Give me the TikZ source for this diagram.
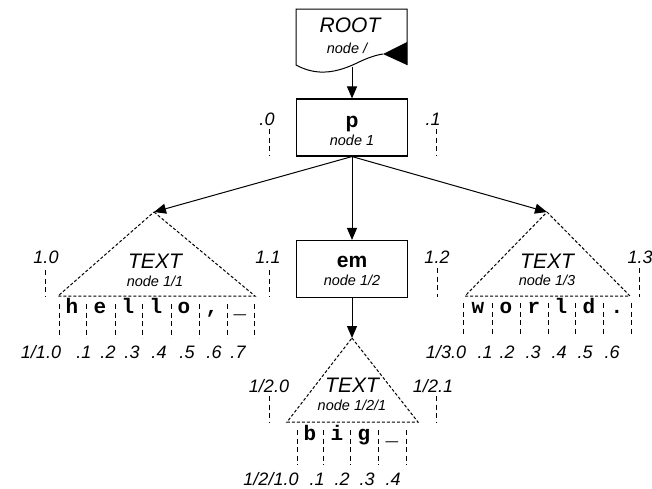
\documentclass[tikz,border=0pt]{standalone}
\usepackage{fontspec}
\setmainfont{Liberation Sans}
\setmonofont{Liberation Mono}
\usetikzlibrary{arrows.meta}
\begin{document}
\begin{tikzpicture}[x=1pt,y=-1pt]
\tikzset{boite/.style={draw, line width=1.1pt, minimum width=111pt, minimum height=57pt, inner sep=0pt},
  nomgras/.style={font=\fontsize{21}{21}\selectfont\bfseries, anchor=base, inner sep=0pt},
  nomital/.style={font=\fontsize{21}{21}\selectfont\itshape, anchor=base, inner sep=0pt},
  sousnom/.style={font=\fontsize{14.5}{14.5}\selectfont\itshape, anchor=base, inner sep=0pt},
  etiq/.style={font=\fontsize{18}{18}\selectfont\itshape, anchor=base, inner sep=0pt},
  lettre/.style={font=\fontsize{21}{21}\selectfont\ttfamily\bfseries, anchor=base, inner sep=0pt},
  fleche/.style={-{Triangle[length=12pt,width=10pt]}, line width=1pt},
  triangle/.style={line width=1pt, dash pattern=on 3pt off 2pt},
  tiret/.style={line width=1pt, dash pattern=on 5pt off 3.5pt}}
\useasboundingbox (0,0) rectangle (652,488);
\draw[line width=1pt] (407,65) -- (407,9) -- (296,9) -- (296,65) .. controls (318,77) and (338,72) .. (357,63) .. controls (367,58) and (376,55) .. (383,54);
\fill (383,54) -- (407,42) -- (407,65) -- cycle;
\node[nomital] (root) at (350,32) {ROOT};
\node[sousnom] (root-s) at (347,53) {node /};
\coordinate (root-out) at (352,67);
\node[boite] (p) at (352,127.5) {};
\node[nomgras] (p-n) at (352,127) {p};
\node[sousnom] (p-s) at (352,145) {node 1};
\node[boite] (em) at (352,269) {};
\node[nomgras] (em-n) at (352,267) {em};
\node[sousnom] (em-s) at (352,285) {node 1/2};
\coordinate (t11) at (154,212);
\coordinate (t11-g) at (58,296);
\coordinate (t11-d) at (255,296);
\draw[triangle] (t11) -- (t11-d) -- (t11-g) -- cycle;
\node[nomital] (t11-n) at (155,268) {TEXT};
\node[sousnom] (t11-s) at (155,286) {node 1/1};
\coordinate (t13) at (547,212);
\coordinate (t13-g) at (465,296);
\coordinate (t13-d) at (630,296);
\draw[triangle] (t13) -- (t13-d) -- (t13-g) -- cycle;
\node[nomital] (t13-n) at (547,268) {TEXT};
\node[sousnom] (t13-s) at (547,285) {node 1/3};
\coordinate (t121) at (352,338);
\coordinate (t121-g) at (287,422);
\coordinate (t121-d) at (418,422);
\draw[triangle] (t121) -- (t121-d) -- (t121-g) -- cycle;
\node[nomital] (t121-n) at (352,392) {TEXT};
\node[sousnom] (t121-s) at (352,410) {node 1/2/1};
\draw[fleche] (root-out) -- (p);
\draw[fleche] (p.south) -- (t11);
\draw[fleche] (p.south) -- (t13);
\draw[fleche] (p) -- (em);
\draw[fleche] (em) -- (t121);
\node[etiq] (e10) at (267,125) {.0};
\draw[tiret] (269,129) -- (269,155);
\node[etiq] (e11) at (433,125) {.1};
\draw[tiret] (436,129) -- (436,155);
\node[etiq] (e110) at (46,263) {1.0};
\draw[tiret] (45,270) -- (45,297);
\node[etiq] (e111) at (268,263) {1.1};
\draw[tiret] (269,270) -- (269,297);
\node[etiq] (e112) at (437,263) {1.2};
\draw[tiret] (437,268) -- (437,297);
\node[etiq] (e113) at (640,263) {1.3};
\draw[tiret] (639,268) -- (639,297);
\node[etiq] (e1120) at (269,392) {1/2.0};
\draw[tiret] (269,396) -- (269,422);
\node[etiq] (e1121) at (433,392) {1/2.1};
\draw[tiret] (436,396) -- (436,422);
\node[lettre] (c1) at (72,313) {h};
\node[lettre] (c2) at (100,313) {e};
\node[lettre] (c3) at (128,313) {l};
\node[lettre] (c4) at (156,313) {l};
\node[lettre] (c5) at (184,313) {o};
\node[lettre] (c6) at (212,313) {,};
\node[lettre] (c7) at (240,313) {\_};
\draw[tiret] (59,304) -- (59,338);
\draw[tiret] (86,304) -- (86,338);
\draw[tiret] (115,304) -- (115,338);
\draw[tiret] (142,304) -- (142,338);
\draw[tiret] (171,304) -- (171,338);
\draw[tiret] (199,304) -- (199,338);
\draw[tiret] (227,304) -- (227,338);
\draw[tiret] (254,304) -- (254,338);
\node[etiq] (b10) at (41,358) {1/1.0};
\node[etiq] (b11) at (84,358) {.1};
\node[etiq] (b12) at (108,358) {.2};
\node[etiq] (b13) at (132,358) {.3};
\node[etiq] (b14) at (159,358) {.4};
\node[etiq] (b15) at (187,358) {.5};
\node[etiq] (b16) at (214,358) {.6};
\node[etiq] (b17) at (238,358) {.7};
\node[lettre] (d1) at (478,313) {w};
\node[lettre] (d2) at (506,313) {o};
\node[lettre] (d3) at (534,313) {r};
\node[lettre] (d4) at (561,313) {l};
\node[lettre] (d5) at (589,313) {d};
\node[lettre] (d6) at (617,313) {.};
\draw[tiret] (463,303) -- (463,336);
\draw[tiret] (492,303) -- (492,336);
\draw[tiret] (520,303) -- (520,336);
\draw[tiret] (548,303) -- (548,336);
\draw[tiret] (575,303) -- (575,336);
\draw[tiret] (603,303) -- (603,336);
\draw[tiret] (631,303) -- (631,336);
\node[etiq] (b30) at (446,358) {1/3.0};
\node[etiq] (b31) at (485,358) {.1};
\node[etiq] (b32) at (507,358) {.2};
\node[etiq] (b33) at (533,358) {.3};
\node[etiq] (b34) at (559,358) {.4};
\node[etiq] (b35) at (585,358) {.5};
\node[etiq] (b36) at (612,358) {.6};
\node[lettre] (g1) at (310,440) {b};
\node[lettre] (g2) at (337,440) {i};
\node[lettre] (g3) at (364,440) {g};
\node[lettre] (g4) at (392,440) {\_};
\draw[tiret] (297,430) -- (297,465);
\draw[tiret] (323,430) -- (323,465);
\draw[tiret] (350,430) -- (350,465);
\draw[tiret] (378,430) -- (378,465);
\draw[tiret] (406,430) -- (406,465);
\node[etiq] (b20) at (271,485) {1/2/1.0};
\node[etiq] (b21) at (317,485) {.1};
\node[etiq] (b22) at (342,485) {.2};
\node[etiq] (b23) at (367,485) {.3};
\node[etiq] (b24) at (393,485) {.4};
\end{tikzpicture}
\end{document}
